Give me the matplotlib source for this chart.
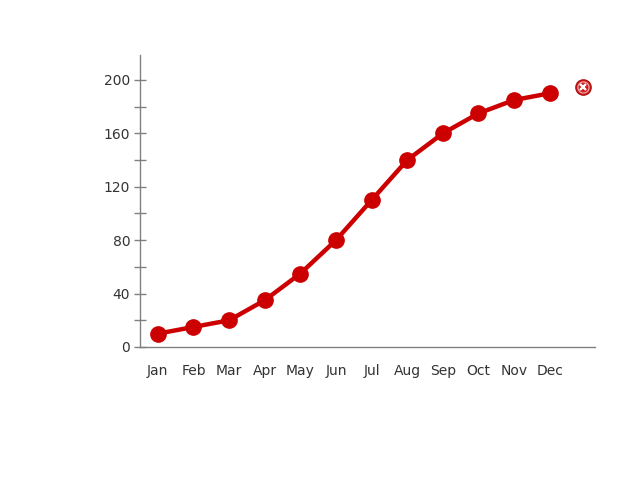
import matplotlib
matplotlib.use("Agg")
import matplotlib.pyplot as plt
from matplotlib.ticker import MultipleLocator

months = ["Jan", "Feb", "Mar", "Apr", "May", "Jun", "Jul", "Aug", "Sep", "Oct", "Nov", "Dec"]
values = [10, 15, 20, 35, 55, 80, 110, 140, 160, 175, 185, 190]
y_ticks = [0, 40, 80, 120, 160, 200]

RED = "#cc0000"
AXIS = "#808080"
TEXT = "#333333"

fig = plt.figure(figsize=(6.4, 4.82), dpi=100)
ax = fig.add_axes([140 / 640, 1 - 347 / 482, 455 / 640, 292 / 482])

x = list(range(len(months)))
ax.plot(x, values, color=RED, linewidth=3.2, marker="o", markersize=11,
        markerfacecolor=RED, markeredgecolor=RED, zorder=3, clip_on=False)

# little "close" icon at the end of the series
ax.plot([11.93], [194.5], marker="o", markersize=11, markerfacecolor="#d42020",
        markeredgecolor="#b01010", markeredgewidth=1, clip_on=False, zorder=4)
ax.plot([11.93], [194.5], marker="o", markersize=8, markerfacecolor="none",
        markeredgecolor="#f0b0b0", markeredgewidth=0.8, clip_on=False, zorder=5)
ax.plot([11.93], [194.5], marker="x", markersize=4.5, markeredgecolor="white",
        markeredgewidth=1.6, clip_on=False, zorder=6)

ax.set_xlim(-0.5, 12.27)
ax.set_ylim(0, 218.7)
ax.set_xticks(x)
ax.set_xticklabels(months)
ax.set_yticks(y_ticks)
ax.yaxis.set_minor_locator(MultipleLocator(20))

for s in ["top", "right"]:
    ax.spines[s].set_visible(False)
for s in ["left", "bottom"]:
    ax.spines[s].set_color(AXIS)
    ax.spines[s].set_linewidth(1)

ax.tick_params(axis="x", length=0, pad=12, labelsize=10, labelcolor=TEXT)
ax.tick_params(axis="y", which="both", direction="inout", length=8, width=1,
               color=AXIS, labelsize=10, labelcolor=TEXT, pad=3)

fig.savefig("out.png", dpi=100)
